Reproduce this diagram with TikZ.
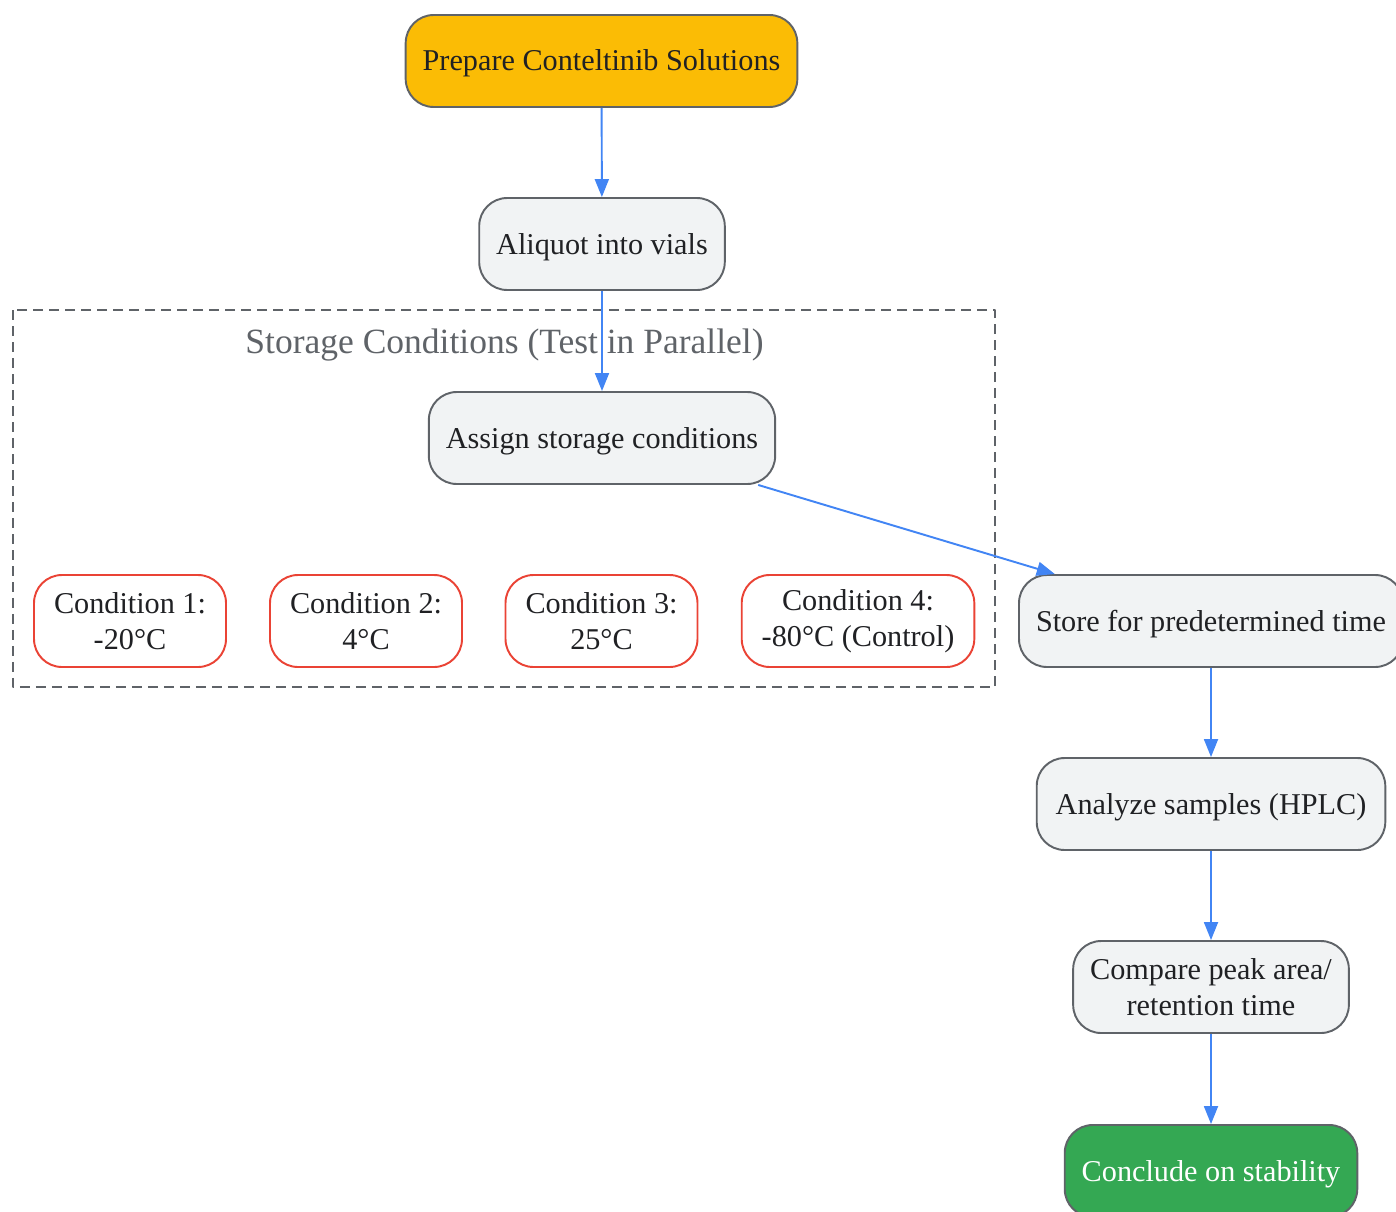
\documentclass[tikz,border=0pt]{standalone}
\usepackage{fontspec}
\setmainfont{Liberation Serif}
\usetikzlibrary{arrows.meta,positioning}
\definecolor{ink}{HTML}{202124}
\definecolor{edgegray}{HTML}{5F6368}
\definecolor{flowblue}{HTML}{4285F4}
\definecolor{startyellow}{HTML}{FBBC05}
\definecolor{stepgray}{HTML}{F1F3F4}
\definecolor{condred}{HTML}{EA4335}
\definecolor{donegreen}{HTML}{34A853}
\tikzset{
  Box/.style={
    draw=edgegray, line width=1.1pt,
    rounded corners=0.56cm,
    minimum height=1.84cm, inner xsep=0.34cm,
    align=center, text=ink,
    text height=0.54cm, text depth=0.14cm,
    font=\fontsize{17.2}{20.5}\selectfont
  },
  TwoLine/.style={text height=, text depth=},
  StepBox/.style={Box, fill=stepgray},
  StartBox/.style={Box, fill=startyellow},
  CondBox/.style={Box, TwoLine, draw=condred, fill=white, inner xsep=0.4cm},
  EndBox/.style={Box, fill=donegreen, text=white},
  Flow/.style={draw=flowblue, line width=1.1pt,
    -{Triangle[length=0.36cm,width=0.28cm]}},
  Cluster/.style={draw=edgegray, line width=1.1pt,
    dash pattern=on 0.2cm off 0.12cm}
}

\begin{document}
\begin{tikzpicture}[line join=round]
  \useasboundingbox (0,0) rectangle (27.92,-24.22);

  % storage cluster
  \draw[Cluster] (0.26,-6.20) rectangle (19.90,-13.74);
  \node[text=edgegray, font=\fontsize{20.2}{24}\selectfont] (clabel) at (10.09,-6.90)
    {Storage Conditions (Test in Parallel)};

  \node[StartBox] (prep) at (12.03,-1.22) {Prepare Conteltinib Solutions};
  \node[StepBox] (aliq) at (12.04,-4.88) {Aliquot into vials};
  \node[StepBox] (assign) at (12.04,-8.76) {Assign storage conditions};

  \node[CondBox] (cond1) at (2.60,-12.42) {Condition 1:\\-20°C};
  \node[CondBox] (cond2) at (7.32,-12.42) {Condition 2:\\4°C};
  \node[CondBox] (cond3) at (12.03,-12.42) {Condition 3:\\25°C};
  \node[CondBox] (cond4) at (17.16,-12.42) {Condition 4:\\-80°C (Control)};

  \node[StepBox] (store) at (24.22,-12.42) {Store for predetermined time};
  \node[StepBox, inner xsep=0.38cm] (analyze) at (24.22,-16.08) {Analyze samples (HPLC)};
  \node[StepBox, TwoLine] (compare) at (24.22,-19.74) {Compare peak area/\\retention time};
  \node[EndBox] (conclude) at (24.22,-23.42) {Conclude on stability};

  \draw[Flow] (prep) -- (aliq);
  \draw[Flow] (aliq) -- (assign);
  \draw[Flow] (assign) -- (store);
  \draw[Flow] (store) -- (analyze);
  \draw[Flow] (analyze) -- (compare);
  \draw[Flow] (compare) -- (conclude);
\end{tikzpicture}
\end{document}
